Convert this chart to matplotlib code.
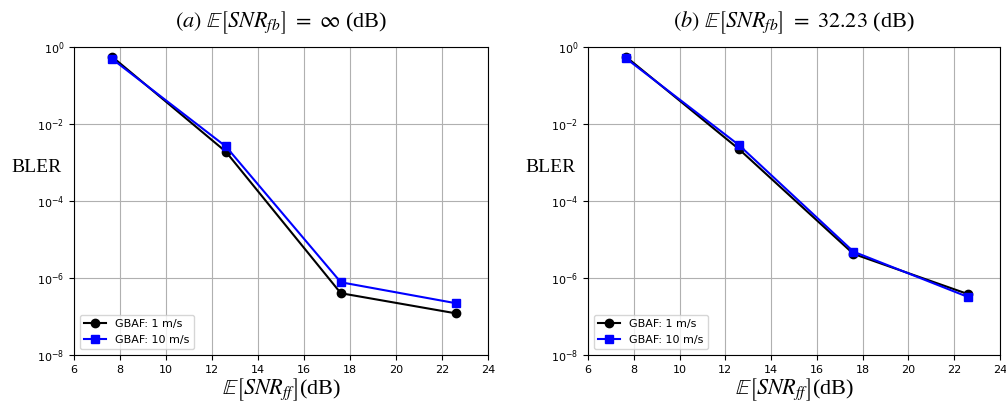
import matplotlib
matplotlib.use("Agg")
import matplotlib.pyplot as plt

plt.rcParams["mathtext.fontset"] = "stix"

# data
snr_ff = [7.65, 12.6, 17.6, 22.6]
bler_a_1ms = [0.56, 1.9e-3, 4.0e-7, 1.2e-7]
bler_a_10ms = [0.49, 2.6e-3, 7.7e-7, 2.2e-7]
bler_b_1ms = [0.56, 2.2e-3, 4.2e-6, 3.8e-7]
bler_b_10ms = [0.51, 2.8e-3, 4.8e-6, 3.2e-7]

titles = [r"$(a)\ \mathbb{E}\left[SNR_{fb}\right]\ =\ \infty$ (dB)",
          r"$(b)\ \mathbb{E}\left[SNR_{fb}\right]\ =\ 32.23$ (dB)"]
xticks = [6, 8, 10, 12, 14, 16, 18, 20, 22, 24]
yticks = [1e0, 1e-2, 1e-4, 1e-6, 1e-8]

fig = plt.figure(figsize=(10.06, 4.01), dpi=100)
ax_a = fig.add_axes([0.0736, 0.115, 0.4115, 0.768])
ax_b = fig.add_axes([0.5845, 0.115, 0.4095, 0.768])

panels = [(ax_a, bler_a_1ms, bler_a_10ms), (ax_b, bler_b_1ms, bler_b_10ms)]

for (ax, b1, b10), title in zip(panels, titles):
    ax.semilogy(snr_ff, b1, color="black", marker="o", markersize=6,
                linewidth=1.5, label="GBAF: 1 m/s")
    ax.semilogy(snr_ff, b10, color="blue", marker="s", markersize=6,
                linewidth=1.5, label="GBAF: 10 m/s")
    ax.set_xlim(6, 24)
    ax.set_ylim(1e-8, 1e0)
    ax.set_xticks(xticks)
    ax.set_yticks(yticks)
    ax.minorticks_off()
    ax.tick_params(labelsize=8)
    ax.grid(True, color="#b0b0b0", linewidth=0.8)
    ax.set_title(title, fontsize=16, family="Liberation Serif", pad=14)
    ax.set_xlabel(r"$\mathbb{E}\left[SNR_{ff}\right]$(dB)", fontsize=16,
                  family="Liberation Serif", labelpad=1)
    ax.set_ylabel("BLER", fontsize=14, family="Liberation Serif", rotation=0)
    ax.yaxis.set_label_coords(-0.092, 0.607)
    ax.yaxis.label.set_verticalalignment("center")
    ax.legend(loc="lower left", fontsize=8)

fig.savefig("out.png", dpi=100)
